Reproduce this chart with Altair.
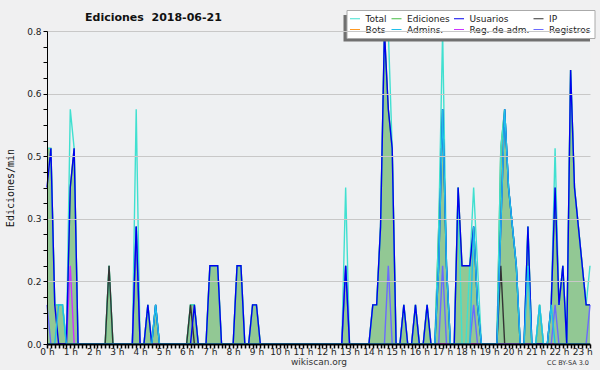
import altair as alt
import pandas as pd

# ---- series names and colours (legend order) ----
SERIES = ["Total", "Ediciones", "Usuarios", "IP", "Bots", "Admins.", "Reg. de adm.", "Registros"]
COLORS = ["#40e0d0", "#44bb44", "#0000ee", "#333333", "#ff9922", "#1fbfea", "#cc33ff", "#6a6aff"]

# ---- edits counted in each 10-minute slot, 00:00 ... 23:20 (6 slots per hour) ----
TOTAL = [
    5, 5, 1, 1, 1, 0,   6, 5, 0, 0, 0, 0,   0, 0, 0, 0, 2, 0,   0, 0, 0, 0, 0, 6,
    0, 0, 1, 0, 1, 0,   0, 0, 0, 0, 0, 0,   0, 1, 1, 0, 0, 0,   2, 2, 2, 0, 0, 0,
    0, 2, 2, 0, 0, 1,   1, 0, 0, 0, 0, 0,   0, 0, 0, 0, 0, 0,   0, 0, 0, 0, 0, 0,
    0, 0, 0, 0, 0, 4,   0, 0, 0, 0, 0, 0,   1, 1, 3, 8, 8, 5,   0, 0, 1, 0, 0, 1,
    0, 0, 1, 0, 0, 3,   8, 2, 0, 0, 4, 0,   0, 2, 4, 2, 0, 0,   0, 0, 0, 5, 6, 4,
    3, 2, 0, 0, 3, 0,   0, 1, 0, 0, 1, 5,   1, 2, 0, 7, 4, 3,   2, 1, 2,
]
EDICIONES = [
    5, 5, 1, 1, 1, 0,   4, 5, 0, 0, 0, 0,   0, 0, 0, 0, 2, 0,   0, 0, 0, 0, 0, 3,
    0, 0, 1, 0, 1, 0,   0, 0, 0, 0, 0, 0,   0, 1, 1, 0, 0, 0,   2, 2, 2, 0, 0, 0,
    0, 2, 2, 0, 0, 1,   1, 0, 0, 0, 0, 0,   0, 0, 0, 0, 0, 0,   0, 0, 0, 0, 0, 0,
    0, 0, 0, 0, 0, 2,   0, 0, 0, 0, 0, 0,   1, 1, 3, 8, 6, 5,   0, 0, 1, 0, 0, 1,
    0, 0, 1, 0, 0, 3,   6, 2, 0, 0, 4, 2,   2, 2, 3, 1, 0, 0,   0, 0, 0, 5, 6, 4,
    3, 2, 0, 0, 3, 0,   0, 1, 0, 0, 1, 4,   1, 2, 0, 7, 4, 3,   2, 1, 1,
]
USUARIOS = [
    4, 5, 1, 0, 0, 0,   4, 5, 0, 0, 0, 0,   0, 0, 0, 0, 0, 0,   0, 0, 0, 0, 0, 3,
    0, 0, 1, 0, 1, 0,   0, 0, 0, 0, 0, 0,   0, 0, 1, 0, 0, 0,   2, 2, 2, 0, 0, 0,
    0, 2, 2, 0, 0, 1,   1, 0, 0, 0, 0, 0,   0, 0, 0, 0, 0, 0,   0, 0, 0, 0, 0, 0,
    0, 0, 0, 0, 0, 2,   0, 0, 0, 0, 0, 0,   1, 1, 3, 8, 6, 5,   0, 0, 1, 0, 0, 1,
    0, 0, 1, 0, 0, 2,   6, 2, 0, 0, 4, 2,   2, 2, 3, 1, 0, 0,   0, 0, 0, 3, 6, 4,
    3, 2, 0, 0, 3, 0,   0, 0, 0, 0, 1, 4,   1, 2, 0, 7, 4, 3,   2, 1, 1,
]
IP = [
    0, 0, 0, 0, 0, 0,   0, 0, 0, 0, 0, 0,   0, 0, 0, 0, 2, 0,   0, 0, 0, 0, 0, 0,
    0, 0, 0, 0, 0, 0,   0, 0, 0, 0, 0, 0,   0, 1, 0, 0, 0, 0,   0, 0, 0, 0, 0, 0,
    0, 0, 0, 0, 0, 0,   0, 0, 0, 0, 0, 0,   0, 0, 0, 0, 0, 0,   0, 0, 0, 0, 0, 0,
    0, 0, 0, 0, 0, 0,   0, 0, 0, 0, 0, 0,   0, 0, 0, 0, 0, 0,   0, 0, 0, 0, 0, 0,
    0, 0, 0, 0, 0, 0,   0, 0, 0, 0, 0, 0,   0, 0, 0, 0, 0, 0,   0, 0, 0, 2, 0, 0,
    0, 0, 0, 0, 0, 0,   0, 0, 0, 0, 0, 0,   0, 0, 0, 0, 0, 0,   0, 0, 0,
]
BOTS = [0] * 141
ADMINS = [
    0, 0, 0, 1, 1, 0,   0, 0, 0, 0, 0, 0,   0, 0, 0, 0, 0, 0,   0, 0, 0, 0, 0, 0,
    0, 0, 0, 0, 1, 0,   0, 0, 0, 0, 0, 0,   0, 0, 0, 0, 0, 0,   0, 0, 0, 0, 0, 0,
    0, 0, 0, 0, 0, 0,   0, 0, 0, 0, 0, 0,   0, 0, 0, 0, 0, 0,   0, 0, 0, 0, 0, 0,
    0, 0, 0, 0, 0, 0,   0, 0, 0, 0, 0, 0,   0, 0, 0, 0, 0, 0,   0, 0, 0, 0, 0, 0,
    0, 0, 0, 0, 0, 2,   6, 2, 0, 0, 0, 0,   0, 0, 3, 1, 0, 0,   0, 0, 0, 3, 6, 4,
    3, 2, 0, 0, 2, 0,   0, 1, 0, 0, 1, 0,   0, 0, 0, 0, 0, 0,   0, 0, 0,
]
REG_ADM = [
    0, 0, 0, 0, 0, 0,   2, 0, 0, 0, 0, 0,
] + [0] * 129
REGISTROS = [
    1, 0, 0, 0, 0, 0,   0, 0, 0, 0, 0, 0,   0, 0, 0, 0, 0, 0,   0, 0, 0, 0, 0, 3,
    0, 0, 0, 0, 0, 0,   0, 0, 0, 0, 0, 0,   0, 0, 0, 0, 0, 0,   0, 0, 0, 0, 0, 0,
    0, 0, 0, 0, 0, 0,   0, 0, 0, 0, 0, 0,   0, 0, 0, 0, 0, 0,   0, 0, 0, 0, 0, 0,
    0, 0, 0, 0, 0, 2,   0, 0, 0, 0, 0, 0,   0, 0, 0, 0, 2, 0,   0, 0, 0, 0, 0, 0,
    0, 0, 0, 0, 0, 0,   2, 0, 0, 0, 0, 0,   0, 0, 1, 0, 0, 0,   0, 0, 0, 0, 0, 0,
    0, 0, 0, 0, 0, 0,   0, 0, 0, 0, 0, 1,   0, 0, 0, 0, 0, 0,   0, 0, 1,
]
SLOT_MINUTES = 10

# drawing order of the lines (last on top)
DRAW = [("Ediciones", EDICIONES), ("Total", TOTAL), ("Bots", BOTS), ("IP", IP),
        ("Reg. de adm.", REG_ADM), ("Registros", REGISTROS), ("Usuarios", USUARIOS),
        ("Admins.", ADMINS)]

rows = []
for name, vals in DRAW:
    for k, v in enumerate(vals):
        rows.append({"serie": name, "hora": k * SLOT_MINUTES / 60, "valor": v / SLOT_MINUTES})
df = pd.DataFrame(rows)
last_hour = df["hora"].max()

xticks = [k * SLOT_MINUTES / 60 for k in range(len(TOTAL))]
yticks = [round(k * 0.04, 2) for k in range(21)]
major_y = "abs(datum.value / 0.16 - round(datum.value / 0.16)) < 0.01"

x_enc = alt.X(
    "hora:Q",
    scale=alt.Scale(domain=[0, last_hour], nice=False, zero=False),
    axis=alt.Axis(
        values=xticks,
        labelExpr="abs(datum.value - round(datum.value)) < 0.001 ? round(datum.value) + ' h' : ''",
        labelFlush=False, labelOverlap=False, grid=False,
        tickSize=4, tickWidth=1.5, tickColor="#000000",
        domainColor="#000000", domainWidth=2,
        labelFont="DejaVu Sans", labelFontSize=9, labelColor="#222222", labelPadding=-1,
        title="wikiscan.org", titleFont="DejaVu Sans", titleFontSize=9,
        titleFontWeight="normal", titleColor="#333333", titlePadding=1, zindex=1,
    ),
)
y_enc = alt.Y(
    "valor:Q",
    scale=alt.Scale(domain=[0, 0.8], nice=False),
    axis=alt.Axis(
        values=yticks,
        labelExpr=major_y + " ? format(datum.value, '.1f') : ''",
        labelOverlap=False, labelFlush=False,
        grid=True,
        gridColor={"condition": {"test": major_y, "value": "#c8c8c8"}, "value": "transparent"},
        gridWidth=1,
        tickSize=4, tickWidth=1, tickColor="#000000",
        domainColor="#000000", domainWidth=1,
        labelFont="DejaVu Sans", labelFontSize=9, labelColor="#222222", labelPadding=2,
        title="Ediciones/min", titleFont="DejaVu Sans Mono", titleFontSize=10,
        titleFontWeight="normal", titleColor="#111111", titlePadding=11, zindex=1,
    ),
)

area = alt.Chart(df).transform_filter(alt.datum.serie == "Ediciones").mark_area(
    color="#92c894", opacity=1
).encode(x=x_enc, y=y_enc)

lines = alt.Chart(df).mark_line(strokeWidth=1.4).encode(
    x=x_enc,
    y=y_enc,
    color=alt.Color(
        "serie:N",
        scale=alt.Scale(domain=SERIES, range=COLORS),
        legend=alt.Legend(
            orient="none", legendX=299.5, legendY=-21, columns=4, direction="horizontal",
            title=None, symbolType="stroke", symbolStrokeWidth=1, symbolSize=100,
            labelFont="DejaVu Sans", labelFontSize=9, labelColor="#222222",
            fillColor="#ffffff", strokeColor="#aaaaaa", padding=3,
            rowPadding=0, columnPadding=1.5, labelOffset=5,
        ),
    ),
)

shadow = alt.Chart(pd.DataFrame({"s": [0]})).mark_rect(color="#707070").encode(
    x=alt.value(296.5), x2=alt.value(543), y=alt.value(-16), y2=alt.value(10.5)
)

licence = alt.Chart(pd.DataFrame({"t": ["CC BY-SA 3.0"]})).mark_text(
    align="right", baseline="alphabetic", font="DejaVu Sans", fontSize=6.5, color="#333333"
).encode(text="t:N", x=alt.value(542), y=alt.value(334))

chart = alt.layer(area, lines, shadow, licence).properties(
    width=543,
    height=313,
    title=alt.TitleParams(
        "Ediciones\u00a0 2018-06-21", anchor="start", frame="group", dx=38, dy=20,
        font="DejaVu Sans", fontSize=11, fontWeight="bold", color="#111111", offset=7,
    ),
    autosize=alt.AutoSizeParams(type="none"),
    padding={"left": 47, "top": 31, "right": 10, "bottom": 26},
    background="#f0f0f1",
).configure_view(fill="#eef0f2", stroke="transparent")

chart.save("out.html", embed_options={"renderer": "svg", "actions": False})
